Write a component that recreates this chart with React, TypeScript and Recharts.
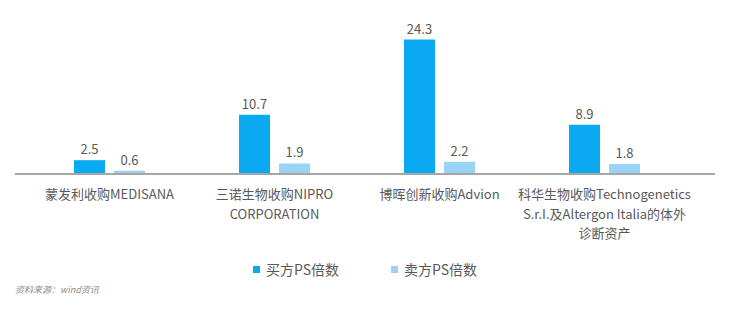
import React from 'react';
import { BarChart, Bar, XAxis, YAxis, Legend, LabelList } from 'recharts';

// 交易名称（多行标签用 \n 分隔）
const deals = [
  '蒙发利收购MEDISANA',
  '三诺生物收购NIPRO\nCORPORATION',
  '博晖创新收购Advion',
  '科华生物收购Technogenetics\nS.r.I.及Altergon Italia的体外\n诊断资产',
];
const buyerPS = [2.5, 10.7, 24.3, 8.9];
const sellerPS = [0.6, 1.9, 2.2, 1.8];

const BUY_COLOR = '#0AAAF2';
const SELL_COLOR = '#99D4F7';
const FONT = '"Noto Sans CJK SC", "Noto Sans", sans-serif';

const chartData = deals.map((name, i) => ({
  name,
  buy: buyerPS[i],
  sell: sellerPS[i],
}));

const DealTick = (props: any) => {
  const { x, y, payload } = props;
  const lines = String(payload.value).split('\n');
  return (
    <g transform={`translate(${x},${y})`}>
      {lines.map((line, i) => (
        <text
          key={i}
          x={0}
          y={17 + i * 19.5}
          textAnchor="middle"
          fill="#595959"
          fontSize={13}
          fontFamily={FONT}
        >
          {line}
        </text>
      ))}
    </g>
  );
};

const LegendContent = () => (
  <div style={{ display: 'flex', justifyContent: 'center', gap: 52, fontFamily: FONT, fontSize: 14, color: '#595959' }}>
    {[
      { label: '买方PS倍数', color: BUY_COLOR },
      { label: '卖方PS倍数', color: SELL_COLOR },
    ].map((item) => (
      <div key={item.label} style={{ display: 'flex', alignItems: 'center', gap: 6 }}>
        <span style={{ display: 'inline-block', width: 7, height: 7, background: item.color }} />
        <span>{item.label}</span>
      </div>
    ))}
  </div>
);

export default function App() {
  return (
    <div style={{ position: 'absolute', left: 0, top: 0, width: 734, height: 313, background: '#fff' }}>
      <BarChart
        width={734}
        height={313}
        data={chartData}
        margin={{ top: 8, right: 19, left: 15, bottom: 30 }}
        barSize={31}
        barGap={9}
      >
        <XAxis
          dataKey="name"
          interval={0}
          height={85}
          tickLine={false}
          axisLine={{ stroke: '#A6A6A6', strokeWidth: 2 }}
          padding={{ left: 12, right: 28 }}
          tick={<DealTick />}
        />
        <YAxis hide domain={[0, 30]} />
        <Legend verticalAlign="bottom" height={24} content={<LegendContent />} />
        <Bar dataKey="buy" name="买方PS倍数" fill={BUY_COLOR} isAnimationActive={false}>
          <LabelList dataKey="buy" position="top" offset={6} fill="#595959" fontSize={13} fontFamily={FONT} formatter={(v: any) => Number(v).toFixed(1)} />
        </Bar>
        <Bar dataKey="sell" name="卖方PS倍数" fill={SELL_COLOR} isAnimationActive={false}>
          <LabelList dataKey="sell" position="top" offset={6} fill="#595959" fontSize={13} fontFamily={FONT} formatter={(v: any) => Number(v).toFixed(1)} />
        </Bar>
      </BarChart>
      <div
        style={{
          position: 'absolute',
          left: 15,
          top: 283,
          fontSize: 9,
          fontStyle: 'italic',
          color: '#8c8c8c',
          fontFamily: FONT,
        }}
      >
        资料来源：wind资讯
      </div>
    </div>
  );
}
